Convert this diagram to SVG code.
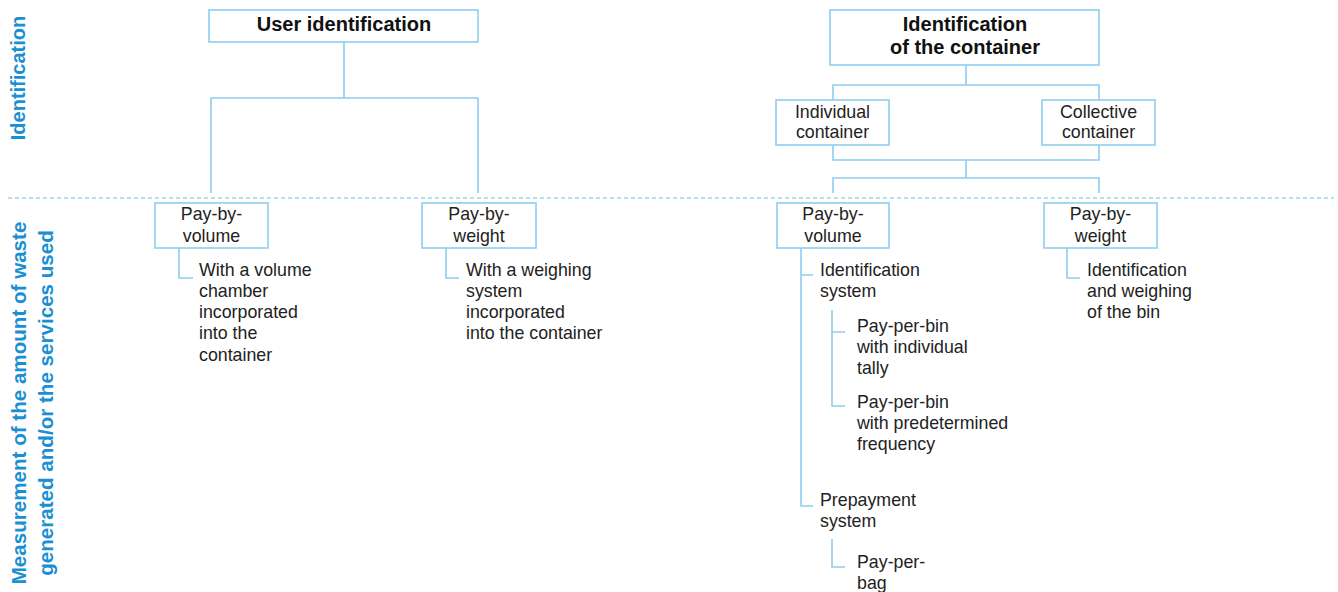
<svg xmlns="http://www.w3.org/2000/svg" width="1338" height="592" viewBox="0 0 1338 592">
<style>
.box{fill:#fff;stroke:#8ecdee;stroke-width:1.6}
.ln{fill:none;stroke:#8ecdee;stroke-width:1.6}
.dash{fill:none;stroke:#9fd3ee;stroke-width:1.4;stroke-dasharray:4 3}
.t{font-family:"Liberation Sans",Arial,sans-serif;font-size:17.8px;fill:#222}
.c{text-anchor:middle}
.b{font-family:"Liberation Sans",Arial,sans-serif;font-size:20px;font-weight:bold;fill:#111;text-anchor:middle}
.lab{font-family:"Liberation Sans",Arial,sans-serif;font-size:20.6px;font-weight:bold;fill:#1a8fd2;text-anchor:middle}
</style>
<rect width="1338" height="592" fill="#fff"/>
<g id="axis-labels">
<text class="lab" transform="translate(25,78) rotate(-90)" style="font-size:20px">Identification</text>
<text class="lab" transform="translate(25.5,403) rotate(-90)">Measurement of the amount of waste</text>
<text class="lab" transform="translate(52.5,403) rotate(-90)">generated and/or the services used</text>
</g>
<g id="connectors">
<line class="dash" x1="8" y1="198" x2="1334" y2="198"/>
<path class="ln" d="M344 42V98M211 193V98H478V193"/>
<path class="ln" d="M966 65V85M833 100V85H1099V100"/>
<path class="ln" d="M833 145V160H1099V145M966 160V178M833 193V178H1099V193"/>
<path class="ln" d="M179 248V278H193"/>
<path class="ln" d="M446 248V278H459"/>
<path class="ln" d="M801 248V506H813M801 275H813"/>
<path class="ln" d="M832 310V406H845M832 332H845"/>
<path class="ln" d="M832 539V567H845"/>
<path class="ln" d="M1067 248V278H1080"/>
</g>
<g id="user-identification">
<rect class="box" x="209" y="10" width="269" height="32"/>
<text class="b" x="344" y="31">User identification</text>
</g>
<g id="container-identification">
<rect class="box" x="830" y="10" width="269" height="55"/>
<text class="b" x="965" y="31">Identification</text>
<text class="b" x="965" y="54">of the container</text>
</g>
<g id="individual-container">
<rect class="box" x="776" y="100" width="113" height="45"/>
<text class="t c" x="832.5" y="118">Individual</text>
<text class="t c" x="832.5" y="138">container</text>
</g>
<g id="collective-container">
<rect class="box" x="1042" y="100" width="113" height="45"/>
<text class="t c" x="1098.5" y="118">Collective</text>
<text class="t c" x="1098.5" y="138">container</text>
</g>
<g id="user-pay-by-volume">
<rect class="box" x="155" y="203" width="113" height="45"/>
<text class="t c" x="211.5" y="220">Pay-by-</text>
<text class="t c" x="211.5" y="242">volume</text>
</g>
<g id="user-volume-chamber">
<text class="t" x="199" y="276">With a volume</text>
<text class="t" x="199" y="297">chamber</text>
<text class="t" x="199" y="318">incorporated</text>
<text class="t" x="199" y="339">into the</text>
<text class="t" x="199" y="361">container</text>
</g>
<g id="user-pay-by-weight">
<rect class="box" x="422" y="203" width="114" height="45"/>
<text class="t c" x="479" y="220">Pay-by-</text>
<text class="t c" x="479" y="242">weight</text>
</g>
<g id="user-weighing-system">
<text class="t" x="466" y="276">With a weighing</text>
<text class="t" x="466" y="297">system</text>
<text class="t" x="466" y="318">incorporated</text>
<text class="t" x="466" y="339">into the container</text>
</g>
<g id="container-pay-by-volume">
<rect class="box" x="777" y="203" width="112" height="45"/>
<text class="t c" x="833" y="220">Pay-by-</text>
<text class="t c" x="833" y="242">volume</text>
</g>
<g id="identification-system">
<text class="t" x="820" y="276">Identification</text>
<text class="t" x="820" y="297">system</text>
</g>
<g id="pay-per-bin-tally">
<text class="t" x="857" y="332">Pay-per-bin</text>
<text class="t" x="857" y="353">with individual</text>
<text class="t" x="857" y="374">tally</text>
</g>
<g id="pay-per-bin-frequency">
<text class="t" x="857" y="408">Pay-per-bin</text>
<text class="t" x="857" y="429">with predetermined</text>
<text class="t" x="857" y="450">frequency</text>
</g>
<g id="prepayment-system">
<text class="t" x="820" y="506">Prepayment</text>
<text class="t" x="820" y="527">system</text>
</g>
<g id="pay-per-bag">
<text class="t" x="857" y="568">Pay-per-</text>
<text class="t" x="857" y="589">bag</text>
</g>
<g id="container-pay-by-weight">
<rect class="box" x="1044" y="203" width="113" height="45"/>
<text class="t c" x="1100.5" y="220">Pay-by-</text>
<text class="t c" x="1100.5" y="242">weight</text>
</g>
<g id="bin-weighing">
<text class="t" x="1087" y="276">Identification</text>
<text class="t" x="1087" y="297">and weighing</text>
<text class="t" x="1087" y="318">of the bin</text>
</g>
</svg>
